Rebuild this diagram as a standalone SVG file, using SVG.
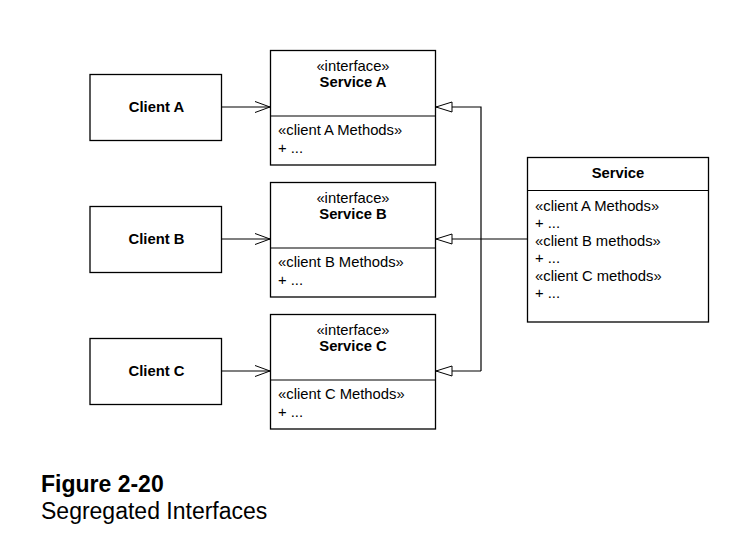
<svg xmlns="http://www.w3.org/2000/svg" width="752" height="540" viewBox="0 0 752 540">
<defs>
<style>
.box{fill:#fff;stroke:#000;stroke-width:1.3}
.ln{fill:none;stroke:#000;stroke-width:1.2}
.t{font-family:"Liberation Sans",Arial,sans-serif;font-size:14.8px;fill:#000}
.b{font-weight:bold}
.c{text-anchor:middle}
.cap{font-size:23px}
</style>
<marker id="open" viewBox="0 0 16 12" refX="15" refY="6" markerWidth="16" markerHeight="12" markerUnits="userSpaceOnUse" orient="auto">
<path d="M0,0.5 L15,6 L0,11.5" fill="none" stroke="#000" stroke-width="1"/>
</marker>
<marker id="tri" viewBox="0 0 18 12" refX="17" refY="6" markerWidth="18" markerHeight="12" markerUnits="userSpaceOnUse" orient="auto">
<path d="M1,1 L17,6 L1,11 Z" fill="#fff" stroke="#000" stroke-width="1"/>
</marker>
</defs>
<rect width="752" height="540" fill="#fff"/>
<g id="connectors">
<line class="ln" x1="221" y1="107" x2="270" y2="107" marker-end="url(#open)"/>
<line class="ln" x1="221" y1="239" x2="270" y2="239" marker-end="url(#open)"/>
<line class="ln" x1="221" y1="371" x2="270" y2="371" marker-end="url(#open)"/>
<polyline class="ln" points="481,371 481,107 436,107" marker-end="url(#tri)"/>
<line class="ln" x1="527" y1="239" x2="436" y2="239" marker-end="url(#tri)"/>
<line class="ln" x1="481" y1="371" x2="436" y2="371" marker-end="url(#tri)"/>
</g>
<g id="clientA">
<rect class="box" x="90" y="74.5" width="131.5" height="66"/>
<text class="t b c" x="156.5" y="112">Client A</text>
</g>
<g id="clientB">
<rect class="box" x="90" y="206.5" width="131.5" height="66"/>
<text class="t b c" x="156.5" y="244">Client B</text>
</g>
<g id="clientC">
<rect class="box" x="90" y="338.5" width="131.5" height="66"/>
<text class="t b c" x="156.5" y="376">Client C</text>
</g>
<g id="serviceA">
<rect class="box" x="270.5" y="50.5" width="165" height="114.5"/>
<line class="ln" x1="270.5" y1="116" x2="435.5" y2="116"/>
<text class="t c" x="353" y="71">«interface»</text>
<text class="t b c" x="353" y="87">Service A</text>
<text class="t" x="278" y="135">«client A Methods»</text>
<text class="t" x="278" y="153">+ ...</text>
</g>
<g id="serviceB">
<rect class="box" x="270.5" y="182.5" width="165" height="114.5"/>
<line class="ln" x1="270.5" y1="248" x2="435.5" y2="248"/>
<text class="t c" x="353" y="203">«interface»</text>
<text class="t b c" x="353" y="219">Service B</text>
<text class="t" x="278" y="267">«client B Methods»</text>
<text class="t" x="278" y="285">+ ...</text>
</g>
<g id="serviceC">
<rect class="box" x="270.5" y="314.5" width="165" height="114.5"/>
<line class="ln" x1="270.5" y1="380" x2="435.5" y2="380"/>
<text class="t c" x="353" y="335">«interface»</text>
<text class="t b c" x="353" y="351">Service C</text>
<text class="t" x="278" y="399">«client C Methods»</text>
<text class="t" x="278" y="417">+ ...</text>
</g>
<g id="service">
<rect class="box" x="527.5" y="157.5" width="181" height="164.5"/>
<line class="ln" x1="527.5" y1="190.5" x2="708.5" y2="190.5"/>
<text class="t b c" x="618" y="178">Service</text>
<text class="t" x="535" y="211">«client A Methods»</text>
<text class="t" x="535" y="228">+ ...</text>
<text class="t" x="535" y="246">«client B methods»</text>
<text class="t" x="535" y="263">+ ...</text>
<text class="t" x="535" y="281">«client C methods»</text>
<text class="t" x="535" y="298">+ ...</text>
</g>
<g id="caption">
<text class="t b cap" x="41" y="492">Figure 2-20</text>
<text class="t cap" x="41" y="519">Segregated Interfaces</text>
</g>
</svg>
